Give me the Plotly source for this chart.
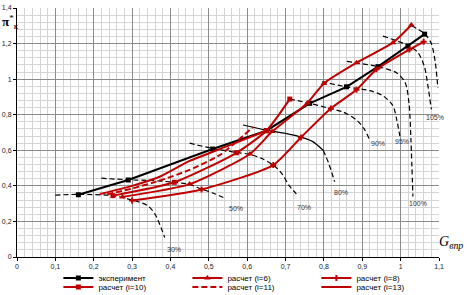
import plotly.graph_objects as go

# ---------------- data ----------------
exp_x = [0.16, 0.29, 0.51, 0.65, 0.763, 0.859, 0.941, 1.019, 1.0625]
exp_y = [0.35, 0.433, 0.607, 0.71, 0.864, 0.957, 1.07, 1.186, 1.253]

i6_x = [0.275, 0.45, 0.607, 0.665, 0.757, 0.80, 0.885, 0.98, 1.028]
i6_y = [0.338, 0.41, 0.579, 0.705, 0.866, 0.976, 1.092, 1.205, 1.304]

i8_x = [0.30, 0.481, 0.668, 0.74, 0.818, 0.885, 0.937, 1.023, 1.06]
i8_y = [0.318, 0.38, 0.517, 0.672, 0.835, 0.94, 1.055, 1.167, 1.21]

i10_x = [0.25, 0.41, 0.572, 0.65, 0.711]
i10_y = [0.345, 0.42, 0.586, 0.71, 0.888]

i11_x = [0.235, 0.30, 0.37, 0.45, 0.53, 0.615]
i11_y = [0.352, 0.385, 0.428, 0.49, 0.575, 0.73]

i13_x = [0.216, 0.30, 0.372, 0.45, 0.55, 0.65]
i13_y = [0.354, 0.40, 0.451, 0.54, 0.625, 0.71]

# speed lines (dashed)
s30_x = [0.10, 0.16, 0.25, 0.30, 0.34, 0.36, 0.385]
s30_y = [0.348, 0.352, 0.345, 0.32, 0.29, 0.24, 0.11]
s50_x = [0.22, 0.29, 0.35, 0.41, 0.45, 0.481, 0.51, 0.545]
s50_y = [0.443, 0.434, 0.43, 0.42, 0.408, 0.382, 0.36, 0.328]
s70_x = [0.45, 0.51, 0.572, 0.607, 0.64, 0.668, 0.69, 0.71, 0.728]
s70_y = [0.64, 0.61, 0.588, 0.577, 0.552, 0.517, 0.47, 0.40, 0.355]
s80s_x = [0.589, 0.65, 0.70, 0.737, 0.77, 0.798]
s80s_y = [0.742, 0.713, 0.695, 0.676, 0.65, 0.60]
s80d_x = [0.798, 0.812, 0.828]
s80d_y = [0.60, 0.53, 0.423]
s90_x = [0.711, 0.763, 0.81, 0.85, 0.885, 0.905, 0.918]
s90_y = [0.888, 0.864, 0.838, 0.815, 0.77, 0.72, 0.665]
s95_x = [0.795, 0.859, 0.92, 0.955, 0.98, 0.99, 0.998]
s95_y = [0.985, 0.957, 0.935, 0.905, 0.85, 0.77, 0.68]
s100_x = [0.86, 0.941, 0.99, 1.012, 1.022, 1.027, 1.032]
s100_y = [1.10, 1.07, 1.035, 0.98, 0.86, 0.65, 0.34]
s105_x = [0.954, 1.019, 1.045, 1.062, 1.072, 1.08]
s105_y = [1.242, 1.19, 1.15, 1.07, 0.95, 0.83]
s108_x = [1.028, 1.0625, 1.08, 1.09, 1.095, 1.097]
s108_y = [1.30, 1.256, 1.20, 1.10, 1.0, 0.95]

speed_labels = ["30%", "50%", "70%", "80%", "90%", "95%", "100%", "105%", "108%"]
label_x = [0.41, 0.57, 0.747, 0.845, 0.94, 1.003, 1.044, 1.09, 1.115]
label_y = [0.045, 0.27, 0.28, 0.365, 0.64, 0.648, 0.30, 0.787, 0.916]

RED = "#C00000"
FONT = "Liberation Sans"

fig = go.Figure()

# speed lines
dash_speed = "5px,3px"
for sx, sy in [(s30_x, s30_y), (s50_x, s50_y), (s70_x, s70_y), (s80d_x, s80d_y),
               (s90_x, s90_y), (s95_x, s95_y), (s100_x, s100_y), (s105_x, s105_y),
               (s108_x, s108_y)]:
    fig.add_trace(go.Scatter(x=sx, y=sy, mode="lines", showlegend=False, hoverinfo="skip",
                             line=dict(color="black", width=1.2, dash=dash_speed,
                                       shape="spline", smoothing=0.8)))
fig.add_trace(go.Scatter(x=s80s_x, y=s80s_y, mode="lines", showlegend=False, hoverinfo="skip",
                         line=dict(color="black", width=1.2, shape="spline", smoothing=0.8)))

# series
fig.add_trace(go.Scatter(x=exp_x, y=exp_y, mode="lines+markers", name="эксперимент",
                         legend="legend",
                         line=dict(color="black", width=2),
                         marker=dict(symbol="square", size=5, color="black")))
fig.add_trace(go.Scatter(x=i6_x, y=i6_y, mode="lines+markers", name="расчет (i=6)",
                         legend="legend",
                         line=dict(color=RED, width=2, shape="spline", smoothing=0.6),
                         marker=dict(symbol="triangle-up", size=6, color=RED)))
fig.add_trace(go.Scatter(x=i8_x, y=i8_y, mode="lines+markers", name="расчет (i=8)",
                         legend="legend",
                         line=dict(color=RED, width=2, shape="spline", smoothing=0.6),
                         marker=dict(symbol="cross", size=5, color=RED)))
fig.add_trace(go.Scatter(x=i10_x, y=i10_y, mode="lines+markers", name="расчет (i=10)",
                         legend="legend2",
                         line=dict(color=RED, width=2, shape="spline", smoothing=0.6),
                         marker=dict(symbol="square", size=5, color=RED)))
fig.add_trace(go.Scatter(x=i11_x, y=i11_y, mode="lines", name="расчет (i=11)",
                         legend="legend2",
                         line=dict(color=RED, width=2, dash="6px,3px", shape="spline", smoothing=0.6)))
fig.add_trace(go.Scatter(x=i13_x, y=i13_y, mode="lines", name="расчет (i=13)",
                         legend="legend2",
                         line=dict(color=RED, width=2, shape="spline", smoothing=0.6)))

for t, lx, ly in zip(speed_labels, label_x, label_y):
    fig.add_annotation(x=lx, y=ly, xref="x", yref="y", text=t, showarrow=False,
                       font=dict(family=FONT, size=7, color="#333333"))

# axis titles
fig.add_annotation(xref="paper", yref="paper", x=-0.04, y=0.945, xanchor="left", yanchor="middle",
                   text="<b>π</b><sup>*</sup><sub>к</sub>", showarrow=False,
                   font=dict(family="Liberation Serif", size=13, color="black"))
fig.add_annotation(xref="paper", yref="paper", x=0.995, y=0.06, xanchor="left", yanchor="middle",
                   text="<i>G</i><sub><i>впр</i></sub>", showarrow=False,
                   font=dict(family="Liberation Serif", size=14, color="black"))

axis_common = dict(showgrid=True, gridcolor="#8a8a8a", gridwidth=1, zeroline=False,
                   showline=True, linecolor="black", linewidth=1,
                   ticks="outside", ticklen=3, tickcolor="black",
                   tickfont=dict(family=FONT, size=7, color="#222222"))

fig.update_xaxes(range=[0, 1.1], dtick=0.1, tick0=0,
                 minor=dict(dtick=0.02, showgrid=True, gridcolor="#d4d4d4", gridwidth=1),
                 **axis_common)
fig.update_yaxes(range=[0, 1.4], dtick=0.2, tick0=0,
                 minor=dict(dtick=0.04, showgrid=True, gridcolor="#d4d4d4", gridwidth=1),
                 **axis_common)

leg_common = dict(orientation="h", xanchor="left", yanchor="middle",
                  xref="container", yref="container",
                  entrywidth=84, entrywidthmode="pixels", bgcolor="rgba(0,0,0,0)",
                  font=dict(family=FONT, size=8, color="black"), itemwidth=30,
                  traceorder="normal")
fig.update_layout(
    width=467, height=295, autosize=False,
    margin=dict(l=17, r=28, t=8, b=38, autoexpand=False),
    paper_bgcolor="white", plot_bgcolor="white",
    separators=", ",
    showlegend=True,
    legend=dict(x=0.125, y=0.0576, **leg_common),
    legend2=dict(x=0.125, y=0.0271, **leg_common),
)

fig.write_html("out.html", config={"displayModeBar": False},
               post_script="document.body.style.margin='0';document.body.style.padding='0';")
